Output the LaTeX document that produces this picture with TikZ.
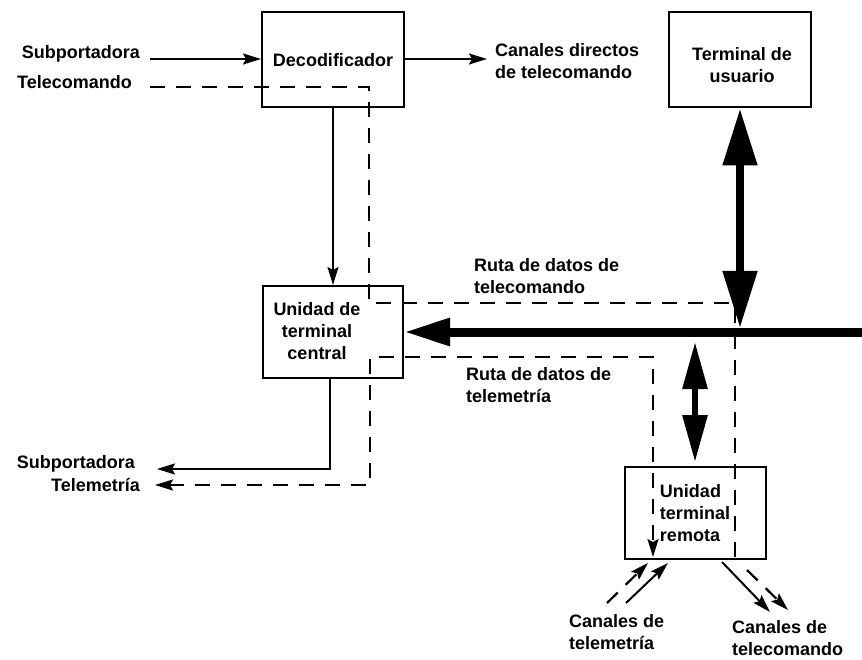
\documentclass[tikz,border=0pt]{standalone}
\usepackage{fontspec}
\setmainfont{Liberation Sans}
\usetikzlibrary{arrows.meta}

\tikzset{
  box/.style={draw,line width=2pt,inner sep=0pt},
  txt/.style={font=\fontsize{18}{22}\selectfont\bfseries,inner sep=0pt},
  tip/.style={-{Stealth[length=18pt,width=11pt,inset=3pt]}},
  sig/.style={line width=2pt,tip},
  dsh/.style={line width=2.2pt,dash pattern=on 15pt off 11pt},
  bus/.style={line width=9pt,-{Triangle[length=46pt,width=26pt]}},
}

\begin{document}
\begin{tikzpicture}[x=1pt,y=-1pt]
  \useasboundingbox (0,0) rectangle (862,660);

  \node[box,txt,minimum width=142pt,minimum height=95pt] (dec) at (333,60) {Decodificador};
  \node[box,minimum width=142pt,minimum height=95pt] (term) at (740,60) {};
  \node[txt,align=center] (termtxt) at (742,65) {Terminal de\\usuario};
  \node[box,minimum width=140pt,minimum height=92pt] (cen) at (333,332) {};
  \node[txt,align=center] (centxt) at (317,331) {Unidad de\\terminal\\central};
  \node[box,txt,align=left,minimum width=141pt,minimum height=92pt] (rem) at (695,513) {Unidad\\terminal\\remota};

  \node[txt,anchor=base east] (subin) at (140,59) {Subportadora};
  \node[txt,anchor=base east] (tcin) at (132,89) {Telecomando};
  \node[txt,anchor=base east] (subout) at (135,468) {Subportadora};
  \node[txt,anchor=base east] (tmout) at (140,491) {Telemetría};
  \node[txt,align=left,anchor=west] (candir) at (495,61) {Canales directos\\de telecomando};
  \node[txt,align=left,anchor=west] (rutatc) at (474,276) {Ruta de datos de\\telecomando};
  \node[txt,align=left,anchor=west] (rutatm) at (466,385) {Ruta de datos de\\telemetría};
  \node[txt,align=left,anchor=west] (cantm) at (569,632) {Canales de\\telemetría};
  \node[txt,align=left,anchor=west] (cantc) at (732,638) {Canales de\\telecomando};

  \coordinate (tcA) at (150,87);
  \coordinate (candirA) at (487,59);
  \coordinate (busA) at (862,332);
  \coordinate (junc) at (740,328);
  \coordinate (tmA) at (155,485);
  \coordinate (tmB) at (653,557);
  \coordinate (tcB) at (735,558);

  \draw[dsh] (tcA) -- (369,87) -- (369,303) -- (735,303) -- (tcB);
  \draw[dsh,{Stealth[length=18pt,width=11pt,inset=3pt]}-{Stealth[length=18pt,width=11pt,inset=3pt]}] (tmA) -| (370,357) -| (tmB);

  \draw[sig] ([xshift=10pt]subin.base east) -- (subin.base -| dec.west);
  \draw[sig] (dec.east |- candirA) -- (candirA);
  \draw[sig] (dec) -- (cen);
  \draw[sig] (cen.south -| 330,0) |- (157,469);

  \draw[bus] (busA) -- (cen.east);
  \draw[line width=8pt,{Triangle[length=57pt,width=33pt]}-{Triangle[length=57pt,width=33pt]}] (term.south) -- (junc);
  \draw[line width=6pt,{Triangle[length=47pt,width=24pt]}-{Triangle[length=47pt,width=24pt]},shorten >=4pt] (rem.north |- 0,342) -- (rem.north);

  \draw[dsh,tip] (607,603) -- (648,563);
  \draw[sig] (626,603) -- (668,563);
  \draw[sig] (722,562) -- (770,612);
  \draw[dsh,tip] (747,570) -- (788,610);
\end{tikzpicture}
\end{document}
